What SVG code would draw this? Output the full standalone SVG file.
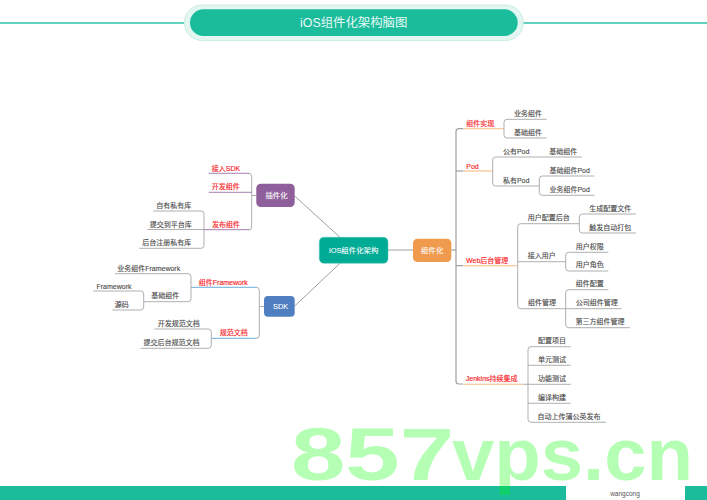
<svg xmlns="http://www.w3.org/2000/svg" width="707" height="500" viewBox="0 0 707 500">
<style>
text{font-family:"Liberation Sans","Noto Sans CJK SC",sans-serif;text-anchor:middle;dominant-baseline:central}
.t{font-size:7px;fill:#4a4a4a;stroke:#4a4a4a;stroke-width:.12}
.r{font-size:7px;fill:#fa1e28;stroke:#fa1e28;stroke-width:.15}
.n{font-size:7.4px;fill:#fff;stroke:#fff;stroke-width:.08}
.c path,.c line{fill:none;stroke:#a6a6a6;stroke-width:.9}
.c .m{stroke-width:1.2;stroke:#a0a0a0}
.c .p{stroke:#9d72a8}
.c .b{stroke:#5aa5dc}
.c .o{stroke:#f7bd80;stroke-width:1.1}
.c .s{stroke:#a0a0a0;stroke-width:1}
</style>
<rect width="707" height="500" fill="#fff"/>
<g id="title">
<line x1="0" y1="23" x2="184" y2="23" stroke="#2cc5a8" stroke-width="1.6"/>
<line x1="523" y1="23" x2="707" y2="23" stroke="#2cc5a8" stroke-width="1.6"/>
<rect x="184.3" y="5" width="339" height="35.5" rx="17.7" fill="#e3f6f1" stroke="#bfe9dd" stroke-width=".8"/>
<rect x="190" y="9.3" width="327.7" height="26.7" rx="13.3" fill="#1abc9c"/>
<text x="353.7" y="23" style="font-size:12.4px;fill:#eafaf6">iOS组件化架构脑图</text>
</g>
<g class="c" id="connectors">
<line class="s" x1="294.7" y1="196" x2="340" y2="237.3"/>
<line class="s" x1="294.7" y1="306" x2="340" y2="263.3"/>
<line class="s" x1="388" y1="250" x2="413" y2="250"/>
<!-- plugin -->
<path d="M256.3 195.5H251.7"/>
<path d="M251.7 195.5V176.3Q251.7 173.3 248.7 173.3"/>
<path d="M251.7 195.5V227Q251.7 230 248.7 230"/>
<path class="p" d="M208.7 173.3H249"/>
<path class="p" d="M208.7 192.3H251.7"/>
<path class="p" d="M204 229.7H249"/>
<path d="M204 229.7V214Q204 211 201 211H153.3"/>
<path d="M204 229.5H147.3"/>
<path d="M204 229.7V245.3Q204 248.3 201 248.3H139.3"/>
<!-- sdk -->
<path d="M264 306.5H259.3"/>
<path d="M259.3 306.5V290.3Q259.3 287.3 256.3 287.3"/>
<path d="M259.3 306.5V335.3Q259.3 338.3 256.3 338.3"/>
<path class="b" d="M191 287.3H256.5"/>
<path class="b" d="M211.3 338.3H256.5"/>
<path d="M191 287.3V276.7Q191 273.7 188 273.7H115"/>
<path d="M191 287.3V298.7Q191 301.7 188 301.7H143.7"/>
<path d="M143.7 301.7V294Q143.7 291 140.7 291H93"/>
<path d="M143.7 301.7V307Q143.7 310 140.7 310H112.3"/>
<path d="M211.3 338.3V332Q211.3 329 208.3 329H154.3"/>
<path d="M211.3 338.3V345.3Q211.3 348.3 208.3 348.3H140.7"/>
<!-- component -->
<path class="m" d="M451.3 250H456"/>
<path class="m" d="M463.3 128.7H459Q456 128.7 456 131.7V381Q456 384 459 384H463"/>
<path class="m" d="M456 171H463.3"/>
<path class="m" d="M456 265.7H463.3"/>
<path class="o" d="M463.3 128.7H503.3"/>
<path class="o" d="M463.3 171H492.7"/>
<path class="o" d="M463.3 265.7H517.7"/>
<path class="o" d="M463.3 384.3H523.3"/>
<path d="M523.3 384.3H528"/>
<path d="M546.7 119.3H507Q504 119.3 504 122.3V135Q504 138 507 138H546.7"/>
<path d="M503.3 128.7H504"/>
<path d="M581.7 157H495.7Q492.7 157 492.7 160V183Q492.7 186 495.7 186H539.3"/>
<path d="M594.3 176H542.3Q539.3 176 539.3 179V192.3Q539.3 195.3 542.3 195.3H594.3"/>
<path d="M579.3 223.7H520.7Q517.7 223.7 517.7 226.7V305.7Q517.7 308.7 520.7 308.7H621.7"/>
<path d="M517.7 261.7H565.7"/>
<path d="M636 214H582.3Q579.3 214 579.3 217V230Q579.3 233 582.3 233H636"/>
<path d="M608.3 252.3H568.7Q565.7 252.3 565.7 255.3V268Q565.7 271 568.7 271H608.3"/>
<path d="M608.3 289.7H568.7Q565.7 289.7 565.7 292.7V324.7Q565.7 327.7 568.7 327.7H630"/>
<path d="M570.7 346.7H531Q528 346.7 528 349.7V419.3Q528 422.3 531 422.3H606"/>
<path d="M528 365.3H570.7"/>
<path d="M528 384.3H570.7"/>
<path d="M528 403.3H570.7"/>
</g>
<g id="n-root"><rect x="319.3" y="237.3" width="68.7" height="26" rx="4.5" fill="#00ab96" stroke="#4cc4b5" stroke-width=".5"/><text class="n" x="353.7" y="250.5" style="font-size:7.4px">iOS组件化架构</text></g>
<g id="n-zujian"><rect x="413" y="238.7" width="38.3" height="23.3" rx="4.5" fill="#f09a4d"/><text class="n" x="432.2" y="250.5">组件化</text></g>
<g id="n-chajian"><rect x="256.3" y="183.7" width="38.4" height="23.3" rx="4.5" fill="#8f5f9b"/><text class="n" x="276.5" y="195.5">插件化</text></g>
<g id="n-sdk"><rect x="264" y="296" width="30.7" height="20.7" rx="4" fill="#4f7fc0"/><text class="n" x="280.7" y="306.3">SDK</text></g>
<g id="l1"><text class="r" x="226" y="168">接入SDK</text></g>
<g id="l2"><text class="r" x="225.7" y="186.7">开发组件</text></g>
<g id="l3"><text class="r" x="226" y="224.7">发布组件</text></g>
<g id="l4"><text class="t" x="173.7" y="205">自有私有库</text></g>
<g id="l5"><text class="t" x="170.8" y="224">提交到平台库</text></g>
<g id="l6"><text class="t" x="166.7" y="242.7">后台注册私有库</text></g>
<g id="l7"><text class="r" x="223.3" y="282">组件Framework</text></g>
<g id="l8"><text class="r" x="233.7" y="332.7">规范文档</text></g>
<g id="l9"><text class="t" x="148.7" y="268">业务组件Framework</text></g>
<g id="l10"><text class="t" x="165.3" y="295.7">基础组件</text></g>
<g id="l11"><text class="t" x="114" y="286">Framework</text></g>
<g id="l12"><text class="t" x="121.7" y="304.3">源码</text></g>
<g id="l13"><text class="t" x="178.7" y="323.3">开发规范文档</text></g>
<g id="l14"><text class="t" x="171.5" y="342.3">提交后台规范文档</text></g>
<g id="l15"><text class="r" x="480.3" y="123">组件实现</text></g>
<g id="l16"><text class="r" x="472.5" y="166.3">Pod</text></g>
<g id="l17"><text class="r" x="487.2" y="260.7">Web后台管理</text></g>
<g id="l18"><text class="r" x="491.7" y="378.3">Jenkins持续集成</text></g>
<g id="l19"><text class="t" x="528" y="113.7">业务组件</text></g>
<g id="l20"><text class="t" x="528" y="132.3">基础组件</text></g>
<g id="l21"><text class="t" x="516.2" y="151.7">公有Pod</text></g>
<g id="l22"><text class="t" x="563.3" y="151.7">基础组件</text></g>
<g id="l23"><text class="t" x="516.2" y="180">私有Pod</text></g>
<g id="l24"><text class="t" x="569.7" y="170.3">基础组件Pod</text></g>
<g id="l25"><text class="t" x="569.7" y="189.3">业务组件Pod</text></g>
<g id="l26"><text class="t" x="548.8" y="217.3">用户配置后台</text></g>
<g id="l27"><text class="t" x="610.3" y="208">生成配置文件</text></g>
<g id="l28"><text class="t" x="610.3" y="227">触发自动打包</text></g>
<g id="l29"><text class="t" x="541.8" y="255.3">接入用户</text></g>
<g id="l30"><text class="t" x="589.7" y="246">用户权限</text></g>
<g id="l31"><text class="t" x="589.7" y="264.7">用户角色</text></g>
<g id="l32"><text class="t" x="542" y="302.7">组件管理</text></g>
<g id="l33"><text class="t" x="589.7" y="283.7">组件配置</text></g>
<g id="l34"><text class="t" x="596.7" y="302.7">公司组件管理</text></g>
<g id="l35"><text class="t" x="600" y="321.3">第三方组件管理</text></g>
<g id="l36"><text class="t" x="552" y="340.3">配置项目</text></g>
<g id="l37"><text class="t" x="552" y="359.3">单元测试</text></g>
<g id="l38"><text class="t" x="552" y="378.3">功能测试</text></g>
<g id="l39"><text class="t" x="552" y="397.3">编译构建</text></g>
<g id="l40"><text class="t" x="569" y="416.7">自动上传蒲公英发布</text></g>
<g id="footer">
<rect x="0" y="486" width="707" height="14" fill="#1abc9c"/>
<rect x="566" y="486" width="119" height="14" fill="#fff"/>
<text x="625" y="493" style="font-size:6.5px;fill:#555">wangcong</text>
</g>
<text y="480" style="text-anchor:start;dominant-baseline:auto;font-weight:700;font-size:75px;fill:#0f0;fill-opacity:.29"><tspan x="291" textLength="163" lengthAdjust="spacingAndGlyphs">857</tspan><tspan x="452" textLength="241" lengthAdjust="spacingAndGlyphs">vps.cn</tspan></text>
</svg>
